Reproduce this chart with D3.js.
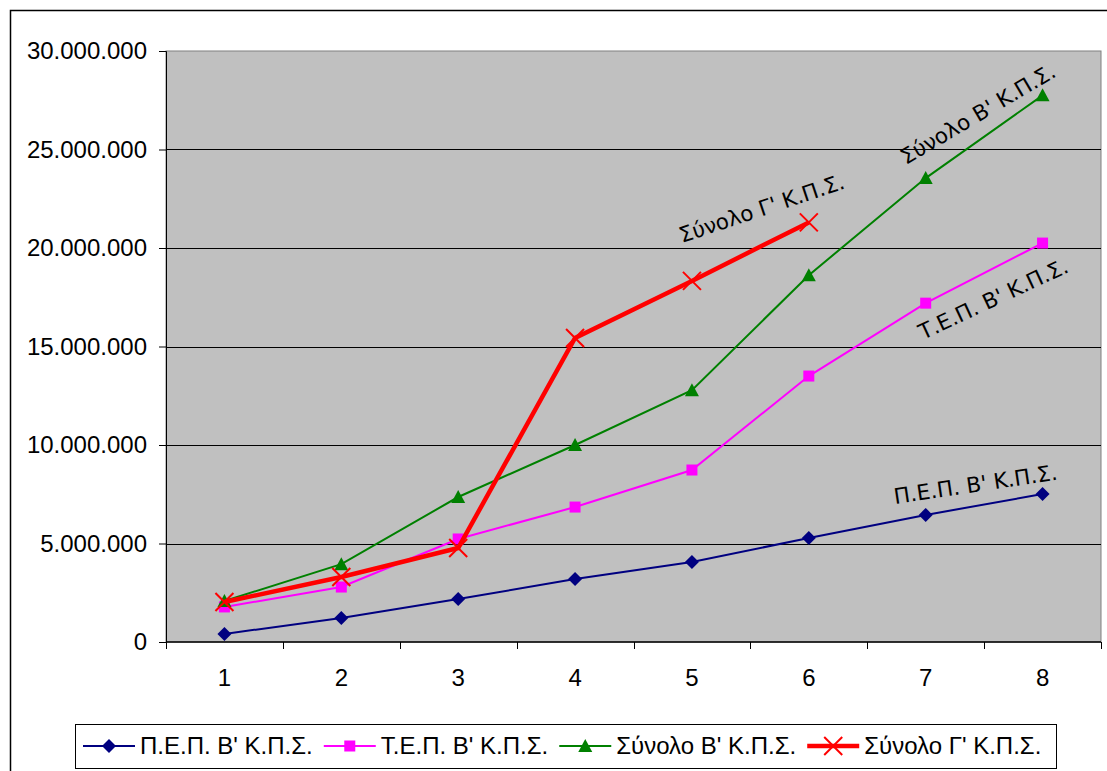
<!DOCTYPE html>
<html>
<head>
<meta charset="utf-8">
<script src="https://cdn.jsdelivr.net/npm/d3@7"></script>
<style>
  body { margin: 0; background: #fff; }
  svg { display: block; }
</style>
</head>
<body>
<script>
// data
var categories = [1, 2, 3, 4, 5, 6, 7, 8];
var seriesNames = ["Π.Ε.Π. Β' Κ.Π.Σ.", "Τ.Ε.Π. Β' Κ.Π.Σ.", "Σύνολο Β' Κ.Π.Σ.", "Σύνολο Γ' Κ.Π.Σ."];
var pepB = [410000, 1220000, 2180000, 3200000, 4060000, 5280000, 6450000, 7510000];
var tepB = [1780000, 2790000, 5230000, 6850000, 8730000, 13500000, 17200000, 20250000];
var totalB = [2080000, 3950000, 7360000, 10000000, 12780000, 18620000, 23550000, 27750000];
var totalG = [2030000, 3300000, 4770000, 15430000, 18330000, 21300000];
var yTicks = [0, 5000000, 10000000, 15000000, 20000000, 25000000, 30000000];

var width = 1107,
    height = 771;
var pLeft = 166, pRight = 1101, pTop = 51, pBottom = 642;

var svg = d3.select("body")
    .append("svg")
    .attr("width", width)
    .attr("height", height);

// outer chart frame
svg.append("rect")
    .attr("x", 10.5).attr("y", 10.5)
    .attr("width", 1110).attr("height", 780)
    .attr("fill", "#fff")
    .attr("stroke", "#000")
    .attr("stroke-width", 1.5);

var x = d3.scaleBand().domain(categories).range([pLeft, pRight]);
var y = d3.scaleLinear().domain([0, 30000000]).range([pBottom, pTop]);

// plot area
svg.append("rect")
    .attr("x", pLeft).attr("y", pTop)
    .attr("width", pRight - pLeft).attr("height", pBottom - pTop)
    .attr("fill", "#c0c0c0")
    .attr("stroke", "#808080");

// gridlines
svg.selectAll(".grid")
    .data(yTicks.slice(1, -1))
    .enter().append("line")
    .attr("x1", pLeft).attr("x2", pRight)
    .attr("y1", function (d) { return Math.round(y(d)) + 0.5; })
    .attr("y2", function (d) { return Math.round(y(d)) + 0.5; })
    .attr("stroke", "#000");

var fmt = function (d) { return d3.format(",")(d).replace(/,/g, "."); };

var yAxis = svg.append("g")
    .attr("transform", "translate(" + pLeft + ",0)")
    .call(d3.axisLeft(y).tickValues(yTicks).tickFormat(fmt).tickSize(7).tickPadding(12));
yAxis.select(".domain").attr("stroke", "#000");
yAxis.selectAll("line").attr("stroke", "#000");
yAxis.selectAll("text")
    .attr("font-family", "'Liberation Sans', Arial, sans-serif")
    .attr("font-size", 24)
    .attr("fill", "#000");

// x axis with ticks on band edges
var xg = svg.append("g").attr("transform", "translate(0," + pBottom + ")");
xg.append("line").attr("x1", pLeft).attr("x2", pRight).attr("stroke", "#000").attr("stroke-width", 1.5);
var edges = categories.map(function (c) { return x(c); }).concat([pRight]);
xg.selectAll(".tk").data(edges).enter().append("line")
    .attr("x1", function (d) { return Math.round(d) + 0.5; })
    .attr("x2", function (d) { return Math.round(d) + 0.5; })
    .attr("y1", 0).attr("y2", 7)
    .attr("stroke", "#000");
xg.selectAll(".lbl").data(categories).enter().append("text")
    .attr("x", function (d) { return x(d) + x.bandwidth() / 2; })
    .attr("y", 44)
    .attr("text-anchor", "middle")
    .attr("font-family", "'Liberation Sans', Arial, sans-serif")
    .attr("font-size", 24)
    .text(function (d) { return d; });

var series = [
    { name: seriesNames[0], values: pepB, color: "#000080", width: 2, marker: "diamond" },
    { name: seriesNames[1], values: tepB, color: "#ff00ff", width: 2, marker: "square" },
    { name: seriesNames[2], values: totalB, color: "#008000", width: 2, marker: "triangle" },
    { name: seriesNames[3], values: totalG, color: "#ff0000", width: 4.5, marker: "x" }
];

var cx = function (i) { return x(categories[i]) + x.bandwidth() / 2; };

function drawMarker(g, type, px, py, color) {
    if (type === "diamond") {
        g.append("path").attr("d", "M" + px + "," + (py - 7) + "L" + (px + 7) + "," + py + "L" + px + "," + (py + 7) + "L" + (px - 7) + "," + py + "Z")
            .attr("fill", color);
    } else if (type === "square") {
        g.append("rect").attr("x", px - 5.5).attr("y", py - 5.5).attr("width", 11).attr("height", 11).attr("fill", color);
    } else if (type === "triangle") {
        g.append("path").attr("d", "M" + px + "," + (py - 7) + "L" + (px + 7) + "," + (py + 6) + "L" + (px - 7) + "," + (py + 6) + "Z")
            .attr("fill", color);
    } else {
        g.append("path").attr("d", "M" + (px - 9) + "," + (py - 9) + "L" + (px + 9) + "," + (py + 9) + "M" + (px + 9) + "," + (py - 9) + "L" + (px - 9) + "," + (py + 9))
            .attr("stroke", color).attr("stroke-width", 2).attr("fill", "none");
    }
}

var line = d3.line()
    .x(function (d, i) { return cx(i); })
    .y(function (d) { return y(d); });

series.forEach(function (s) {
    var g = svg.append("g");
    g.append("path")
        .attr("d", line(s.values))
        .attr("fill", "none")
        .attr("stroke", s.color)
        .attr("stroke-width", s.width);
    s.values.forEach(function (v, i) { drawMarker(g, s.marker, cx(i), y(v), s.color); });
});

// rotated series labels
var labels = [
    { text: seriesNames[3], x: 682, y: 243, angle: -18.5 },
    { text: seriesNames[2], x: 906, y: 165, angle: -30.5 },
    { text: seriesNames[1], x: 923, y: 340, angle: -25 },
    { text: seriesNames[0], x: 895, y: 504, angle: -8.5 }
];
svg.selectAll(".slabel").data(labels).enter().append("text")
    .attr("transform", function (d) { return "translate(" + d.x + "," + d.y + ") rotate(" + d.angle + ")"; })
    .attr("font-family", "'DejaVu Sans', Verdana, sans-serif")
    .attr("font-size", 21.5)
    .attr("fill", "#000")
    .text(function (d) { return d.text; });

// legend
var lg = svg.append("g");
lg.append("rect")
    .attr("x", 75.5).attr("y", 724.5)
    .attr("width", 981).attr("height", 44)
    .attr("fill", "#fff").attr("stroke", "#000");
var lx = 83;
series.forEach(function (s) {
    var ly = 746;
    lg.append("line").attr("x1", lx).attr("x2", lx + 52).attr("y1", ly).attr("y2", ly)
        .attr("stroke", s.color).attr("stroke-width", s.width);
    drawMarker(lg, s.marker, lx + 26, ly, s.color);
    var t = lg.append("text")
        .attr("x", lx + 57).attr("y", ly + 8)
        .attr("font-family", "'Liberation Sans', Arial, sans-serif")
        .attr("font-size", 24)
        .text(s.name);
    lx += 57 + t.node().getComputedTextLength() + 11;
});
</script>
</body>
</html>
